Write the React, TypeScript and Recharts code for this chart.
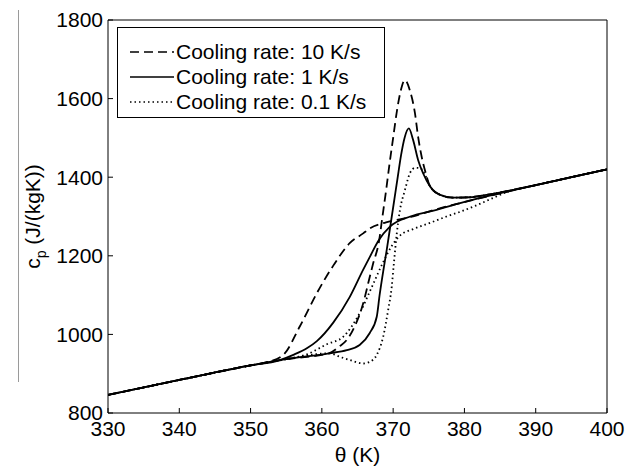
import { LineChart, Line, XAxis, YAxis, Legend, Label } from "recharts";

const FONT = '"Liberation Sans", Arial, Helvetica, sans-serif';

// x ticks (K) and y ticks (J/(kgK))
const xTicks = [330, 340, 350, 360, 370, 380, 390, 400];
const yTicks = [800, 1000, 1200, 1400, 1600, 1800];

const seriesNames = ["Cooling rate: 10 K/s", "Cooling rate: 1 K/s", "Cooling rate: 0.1 K/s"];

// cooling rate 10 K/s
const fastCoolT = [330, 340, 350, 352, 354.6, 356.9, 359.3, 361.6, 363.9, 365.8, 366.75, 369, 372.8, 376, 379.4, 386.4, 390, 395, 400];
const fastCoolCp = [846, 884, 921, 928, 948, 1020, 1105, 1175, 1232, 1257, 1270, 1285, 1300, 1318, 1334, 1365, 1380, 1400, 1420];
const fastHeatT = [330, 340, 350, 355, 361, 362.5, 363.5, 364.6, 365.8, 366.5, 367.2, 368, 368.5, 369, 369.5, 370, 370.5, 371, 371.65, 372.36, 373.06, 373.5, 374, 374.5, 375.2, 376.6, 378.4, 380.8, 383.1, 386.4, 390, 395, 400];
const fastHeatCp = [846, 884, 921, 937, 952, 970, 986, 1020, 1079, 1130, 1181, 1235, 1300, 1365, 1435, 1500, 1565, 1615, 1647, 1620, 1563, 1503, 1452, 1415, 1376, 1355, 1348, 1349, 1355, 1366, 1380, 1400, 1420];

// cooling rate 1 K/s
const midCoolT = [330, 340, 350, 354, 356, 358, 359.3, 361.6, 363.9, 365.8, 366.75, 368, 369.55, 372.4, 376.1, 379.4, 386.4, 390, 395, 400];
const midCoolCp = [846, 884, 921, 934, 948, 966, 983, 1030, 1095, 1165, 1198, 1240, 1274, 1300, 1317, 1334, 1365, 1380, 1400, 1420];
const midHeatT = [330, 340, 350, 355, 361, 363.5, 365.3, 366.7, 367.7, 368.1, 368.6, 369.1, 369.6, 370.1, 370.6, 371.1, 371.6, 372.2, 372.8, 373.5, 374.2, 375.2, 376.6, 378.4, 380.8, 383.1, 386.4, 390, 395, 400];
const midHeatCp = [846, 884, 921, 937, 952, 960, 973, 1003, 1045, 1100, 1160, 1215, 1275, 1335, 1395, 1455, 1500, 1524, 1495, 1444, 1410, 1376, 1355, 1348, 1349, 1355, 1366, 1380, 1400, 1420];

// cooling rate 0.1 K/s
const slowCoolT = [330, 340, 350, 355, 358, 360.7, 363, 365.3, 367, 368.5, 369.8, 371, 372.8, 375.2, 377.5, 379.4, 381.5, 383.5, 386.4, 390, 395, 400];
const slowCoolCp = [846, 884, 921, 937, 950, 975, 994, 1054, 1120, 1180, 1225, 1252, 1268, 1284, 1300, 1312, 1327, 1343, 1365, 1380, 1400, 1420];
const slowHeatT = [330, 340, 350, 355, 361.1, 362.5, 363.9, 365.8, 366.7, 367.7, 368.6, 369.3, 369.8, 370.1, 370.5, 370.95, 371.65, 372.4, 373.1, 373.8, 374.5, 375.2, 376.6, 378.4, 380.8, 383.1, 386.4, 390, 395, 400];
const slowHeatCp = [846, 884, 921, 937, 952, 943, 935, 926, 930, 948, 994, 1062, 1121, 1180, 1255, 1316, 1367, 1412, 1424, 1423, 1405, 1376, 1355, 1348, 1349, 1355, 1366, 1380, 1400, 1420];

const toPoints = (t: number[], cp: number[]) => t.map((v, i) => ({ t: v, cp: cp[i] }));

const dashFor: Record<string, string | undefined> = {
  [seriesNames[0]]: "9 5",
  [seriesNames[1]]: undefined,
  [seriesNames[2]]: "1.5 3",
};

function LegendBox({ payload }: any) {
  const items = (payload || [])
    .filter((p: any) => seriesNames.includes(p.value))
    .sort((a: any, b: any) => seriesNames.indexOf(a.value) - seriesNames.indexOf(b.value));
  return (
    <div
      style={{
        boxSizing: "border-box",
        width: 268,
        height: 91,
        border: "1px solid #000",
        background: "#fff",
        padding: "11px 0 0 12px",
        fontFamily: FONT,
        fontSize: 21,
        color: "#000",
      }}
    >
      {items.map((p: any) => (
        <div key={p.value} style={{ display: "flex", alignItems: "center", height: 25 }}>
          <svg width={44} height={10} style={{ marginRight: 2 }}>
            <line x1={0} x2={44} y1={5} y2={5} stroke="#000" strokeWidth={1.7} strokeDasharray={dashFor[p.value]} />
          </svg>
          <span style={{ whiteSpace: "nowrap" }}>{p.value}</span>
        </div>
      ))}
    </div>
  );
}

function YTitle({ viewBox }: any) {
  const cx = viewBox.x + 40;
  const cy = viewBox.y + viewBox.height / 2;
  return (
    <text transform={`translate(${cx},${cy}) rotate(-90)`} textAnchor="middle" fontSize={21} fontFamily={FONT} fill="#000">
      c<tspan dy={6} fontSize={14}>p</tspan>
      <tspan dy={-6}> (J/(kgK))</tspan>
    </text>
  );
}

export default function App() {
  const lineProps = {
    type: "monotone" as const,
    dataKey: "cp",
    stroke: "#000",
    strokeWidth: 1.8,
    dot: false,
    activeDot: false,
    isAnimationActive: false,
  };
  const tickStyle = { fill: "#000", fontSize: 21, fontFamily: FONT };

  return (
    <div style={{ position: "relative", width: 633, height: 467, background: "#fff" }}>
      <style>{"body{margin:0}"}</style>
      <div style={{ position: "absolute", left: 18, top: 10, width: 1, height: 372, background: "#9a9a9a" }} />
      <LineChart width={633} height={467} margin={{ top: 19, right: 25, bottom: 0, left: 0 }}>
        <XAxis
          dataKey="t"
          type="number"
          domain={[330, 400]}
          ticks={xTicks}
          interval={0}
          allowDataOverflow
          height={54}
          tickSize={-5}
          tickMargin={13}
          tick={tickStyle}
          stroke="#000"
        >
          <Label value="θ (K)" position="insideBottom" offset={5} fontSize={21} fontFamily={FONT} fill="#000" />
        </XAxis>
        <XAxis xAxisId="top" orientation="top" type="number" domain={[330, 400]} ticks={xTicks} height={1} tickSize={-5} tick={false} stroke="#000" />
        <YAxis
          type="number"
          domain={[800, 1800]}
          ticks={yTicks}
          interval={0}
          allowDataOverflow
          width={108}
          tickSize={-5}
          tickMargin={10}
          tick={tickStyle}
          stroke="#000"
          label={<YTitle />}
        />
        <YAxis yAxisId="right" orientation="right" type="number" domain={[800, 1800]} ticks={yTicks} width={1} tickSize={-5} tick={false} stroke="#000" />
        <Legend layout="vertical" align="center" verticalAlign="middle" content={<LegendBox />} wrapperStyle={{ left: 117, top: 27, width: 268 }} />

        <Line {...lineProps} name={seriesNames[0]} data={toPoints(fastHeatT, fastHeatCp)} strokeDasharray="9 5" />
        <Line {...lineProps} name={seriesNames[1]} data={toPoints(midHeatT, midHeatCp)} />
        <Line {...lineProps} name={seriesNames[2]} data={toPoints(slowHeatT, slowHeatCp)} strokeDasharray="1.5 3" />
        <Line {...lineProps} name="fast cool" legendType="none" data={toPoints(fastCoolT, fastCoolCp)} strokeDasharray="9 5" />
        <Line {...lineProps} name="mid cool" legendType="none" data={toPoints(midCoolT, midCoolCp)} />
        <Line {...lineProps} name="slow cool" legendType="none" data={toPoints(slowCoolT, slowCoolCp)} strokeDasharray="1.5 3" />
      </LineChart>
    </div>
  );
}
